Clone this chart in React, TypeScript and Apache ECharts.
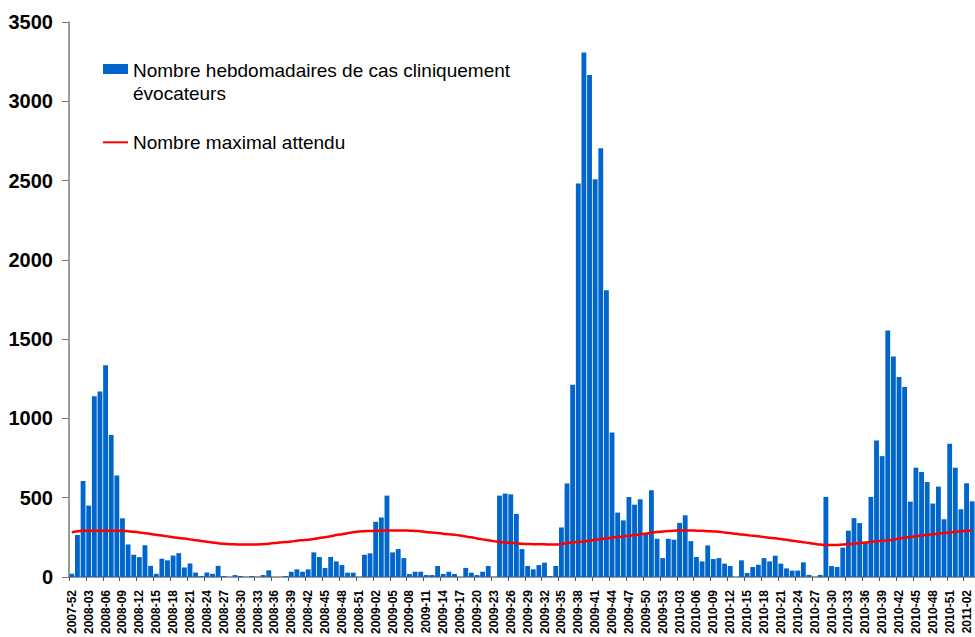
import React, { useEffect, useRef } from "react";
import * as echarts from "echarts";

const weeks: string[] = [
  "2007-52",
  "2008-01","2008-02","2008-03","2008-04","2008-05","2008-06","2008-07","2008-08","2008-09","2008-10",
  "2008-11","2008-12","2008-13","2008-14","2008-15","2008-16","2008-17","2008-18","2008-19","2008-20",
  "2008-21","2008-22","2008-23","2008-24","2008-25","2008-26","2008-27","2008-28","2008-29","2008-30",
  "2008-31","2008-32","2008-33","2008-34","2008-35","2008-36","2008-37","2008-38","2008-39","2008-40",
  "2008-41","2008-42","2008-43","2008-44","2008-45","2008-46","2008-47","2008-48","2008-49","2008-50",
  "2008-51","2008-52",
  "2009-01","2009-02","2009-03","2009-04","2009-05","2009-06","2009-07","2009-08","2009-09","2009-10",
  "2009-11","2009-12","2009-13","2009-14","2009-15","2009-16","2009-17","2009-18","2009-19","2009-20",
  "2009-21","2009-22","2009-23","2009-24","2009-25","2009-26","2009-27","2009-28","2009-29","2009-30",
  "2009-31","2009-32","2009-33","2009-34","2009-35","2009-36","2009-37","2009-38","2009-39","2009-40",
  "2009-41","2009-42","2009-43","2009-44","2009-45","2009-46","2009-47","2009-48","2009-49","2009-50",
  "2009-51","2009-52","2009-53",
  "2010-01","2010-02","2010-03","2010-04","2010-05","2010-06","2010-07","2010-08","2010-09","2010-10",
  "2010-11","2010-12","2010-13","2010-14","2010-15","2010-16","2010-17","2010-18","2010-19","2010-20",
  "2010-21","2010-22","2010-23","2010-24","2010-25","2010-26","2010-27","2010-28","2010-29","2010-30",
  "2010-31","2010-32","2010-33","2010-34","2010-35","2010-36","2010-37","2010-38","2010-39","2010-40",
  "2010-41","2010-42","2010-43","2010-44","2010-45","2010-46","2010-47","2010-48","2010-49","2010-50",
  "2010-51","2010-52",
  "2011-01","2011-02","2011-03",
];

// Nombre hebdomadaires de cas cliniquement évocateurs
const weeklyCases: number[] = [
  20,
  265, 605, 450, 1140, 1170, 1335, 895, 640, 370, 205,
  140, 125, 200, 70, 20, 115, 105, 135, 150, 60,
  85, 28, 6, 28, 20, 70, 6, 0, 12, 6,
  0, 6, 0, 12, 42, 0, 0, 6, 33, 48,
  33, 48, 155, 126, 57, 126, 98, 75, 27, 27,
  0, 140,
  149, 348, 375, 513, 155, 176, 119, 19, 33, 33,
  12, 12, 69, 19, 33, 19, 0, 57, 27, 12,
  33, 69, 0, 513, 526, 521, 398, 176, 69, 48,
  75, 90, 6, 69, 312, 590, 1212, 2481, 3308, 3166,
  2508, 2703, 1809, 911, 406, 357, 504, 456, 490, 275,
  547, 241, 119,
  241, 235, 341, 389, 226, 126, 98, 199, 113, 119,
  84, 69, 0, 105, 25, 63, 77, 119, 98, 134,
  84, 54, 40, 40, 92, 13, 0, 13, 505, 69,
  63, 185, 292, 371, 340, 215, 505, 861, 762, 1554,
  1390, 1261, 1198, 475, 689, 662, 599, 463, 570, 364,
  840, 689,
  427, 591, 477,
];

// Nombre maximal attendu
const expectedMax: number[] = [
  282,
  289, 291, 292, 292, 292, 292, 292, 292, 291, 288,
  285, 281, 276, 271, 266, 261, 256, 251, 246, 242,
  237, 232, 227, 222, 218, 213, 209, 207, 206, 205,
  205, 205, 205, 207, 210, 214, 217, 220, 223, 229,
  232, 235, 240, 246, 251, 257, 264, 270, 276, 282,
  287, 289,
  290, 291, 292, 293, 293, 293, 293, 292, 290, 288,
  284, 280, 277, 273, 270, 266, 261, 255, 250, 243,
  237, 231, 226, 221, 218, 215, 212, 209, 208, 207,
  207, 206, 205, 205, 208, 213, 218, 221, 224, 229,
  234, 239, 244, 248, 252, 256, 260, 264, 269, 274,
  279, 283, 287,
  290, 292, 293, 293, 293, 292, 291, 289, 287, 285,
  281, 277, 272, 268, 264, 260, 257, 252, 248, 244,
  239, 234, 229, 224, 219, 214, 209, 204, 201, 201,
  202, 204, 207, 210, 214, 218, 221, 225, 228, 231,
  235, 242, 248, 252, 257, 261, 265, 269, 273, 277,
  281, 285,
  288, 291, 293,
];

const yTicks = { min: 0, max: 3500, interval: 500 };

const legendBar = ["Nombre hebdomadaires de cas cliniquement", "évocateurs"];
const legendLine = "Nombre maximal attendu";

const FONT = "'Liberation Sans', Arial, sans-serif";

export default function App() {
  const ref = useRef<HTMLDivElement>(null);
  useEffect(() => {
    if (!ref.current) return;
    const chart = echarts.init(ref.current, undefined, { renderer: "svg" });
    chart.setOption({
      animation: false,
      backgroundColor: "#ffffff",
      textStyle: { fontFamily: FONT },
      grid: { left: 69, top: 22, width: 909, height: 557, containLabel: false },
      xAxis: {
        type: "category",
        data: weeks,
        boundaryGap: true,
        axisLine: { show: true, lineStyle: { color: "#7a7a7a", width: 1.5 } },
        axisTick: { show: true, interval: 2, length: 4, lineStyle: { color: "#555", width: 1 } },
        axisLabel: {
          interval: 2,
          rotate: 90,
          margin: 13,
          fontSize: 12,
          fontWeight: "bold",
          color: "#000",
          fontFamily: FONT,
        },
        splitLine: { show: false },
      },
      yAxis: {
        type: "value",
        min: yTicks.min,
        max: yTicks.max,
        interval: yTicks.interval,
        axisLine: { show: true, lineStyle: { color: "#7a7a7a", width: 1.5 } },
        axisTick: { show: true, length: 7, lineStyle: { color: "#7a7a7a" } },
        axisLabel: {
          margin: 16,
          fontSize: 20,
          fontWeight: "bold",
          color: "#000",
          fontFamily: FONT,
          formatter: (v: number) => String(v),
        },
        splitLine: { show: false },
      },
      series: [
        {
          name: legendBar.join(" "),
          type: "bar",
          data: weeklyCases,
          barCategoryGap: "14%",
          itemStyle: { color: "#0066cc" },
          z: 2,
        },
        {
          name: legendLine,
          type: "line",
          data: expectedMax,
          smooth: true,
          symbol: "none",
          lineStyle: { color: "#ff0000", width: 2.5 },
          z: 3,
        },
      ],
      graphic: [
        { type: "rect", shape: { x: 103, y: 64, width: 25, height: 10 }, style: { fill: "#0066cc" } },
        {
          type: "text",
          x: 133,
          y: 70.4,
          style: { text: legendBar[0], font: `19px ${FONT}`, fill: "#000", textVerticalAlign: "middle" },
        },
        {
          type: "text",
          x: 133,
          y: 93.7,
          style: { text: legendBar[1], font: `19px ${FONT}`, fill: "#000", textVerticalAlign: "middle" },
        },
        {
          type: "line",
          shape: { x1: 103, y1: 142.3, x2: 128, y2: 142.3 },
          style: { stroke: "#ff0000", lineWidth: 2 },
        },
        {
          type: "text",
          x: 133,
          y: 142.7,
          style: { text: legendLine, font: `19px ${FONT}`, fill: "#000", textVerticalAlign: "middle" },
        },
      ],
    });
    return () => chart.dispose();
  }, []);
  return (
    <div
      ref={ref}
      style={{ position: "absolute", left: 0, top: 0, width: 975, height: 637, overflow: "hidden" }}
    />
  );
}
